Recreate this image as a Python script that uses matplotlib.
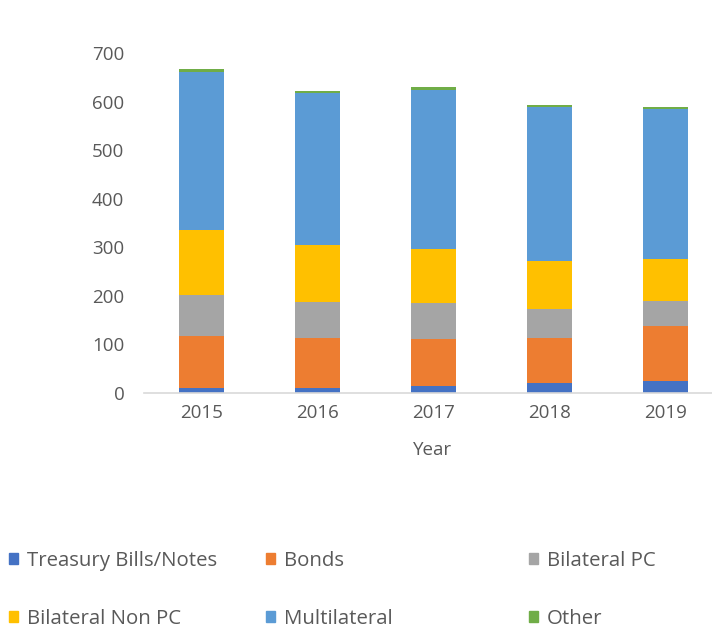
import numpy as np
import matplotlib.pyplot as plt
from matplotlib.patches import Patch

# ------------------------------
# Data
# ------------------------------
years = ['2015', '2016', '2017', '2018', '2019']
treasury = [10, 10, 15, 21, 24]
bonds = [108, 103, 96, 92, 114]
bilateral_pc = [84, 75, 74, 61, 51]
bilateral_non_pc = [134, 117, 112, 98, 87]
multilateral = [326, 313, 328, 317, 309]
other = [5, 5, 5, 4, 4]

series = [
    ('Treasury Bills/Notes', treasury, '#4472C4'),
    ('Bonds', bonds, '#ED7D31'),
    ('Bilateral PC', bilateral_pc, '#A5A5A5'),
    ('Bilateral Non PC', bilateral_non_pc, '#FFC000'),
    ('Multilateral', multilateral, '#5B9BD5'),
    ('Other', other, '#70AD47'),
]

plt.rcParams['font.family'] = ['Open Sans', 'DejaVu Sans']
txt = '#595959'

fig = plt.figure(figsize=(7.12, 6.31), dpi=100)
W, H = 712, 631
# axes spans beyond the right edge, as in the cropped reference
ax = fig.add_axes([143.7 / W, 1 - 393 / H, 580 / W, (393 - 53.3) / H])

x = np.arange(len(years))
bottom = np.zeros(len(years))
for name, vals, col in series:
    ax.bar(x, vals, 0.39, bottom=bottom, color=col, label=name)
    bottom += np.array(vals)

ax.set_xlim(-0.5, 4.5)
ax.set_ylim(0, 700)
ax.set_yticks(range(0, 701, 100))
ax.set_xticks(x)
ax.set_xticklabels(years)
ax.tick_params(length=0, labelsize=13.5, colors=txt, pad=8)
ax.tick_params(axis='y', pad=14)
for s in ['top', 'right', 'left']:
    ax.spines[s].set_visible(False)
ax.spines['bottom'].set_color('#D9D9D9')
ax.spines['bottom'].set_linewidth(1.2)

fig.text(433 / W, 1 - 450 / H, 'Year', ha='center', va='center',
         fontsize=13.5, color=txt)

# ------------------------------
# Legend: three columns, two rows
# ------------------------------
cols = [(0, 3), (1, 4), (2, 5)]
xpos = [1 / W, 258 / W, 521 / W]
for (i, j), xp in zip(cols, xpos):
    hs = [Patch(color=series[k][2]) for k in (i, j)]
    ls = [series[k][0] for k in (i, j)]
    leg = fig.legend(hs, ls, loc='upper left', bbox_to_anchor=(xp, 1 - 543 / H),
                     frameon=False, fontsize=14.7, handlelength=0.45,
                     handleheight=0.45, handletextpad=0.4, labelspacing=1.85,
                     borderaxespad=0)
    for t in leg.get_texts():
        t.set_color(txt)

fig.savefig('out.png', dpi=100)
